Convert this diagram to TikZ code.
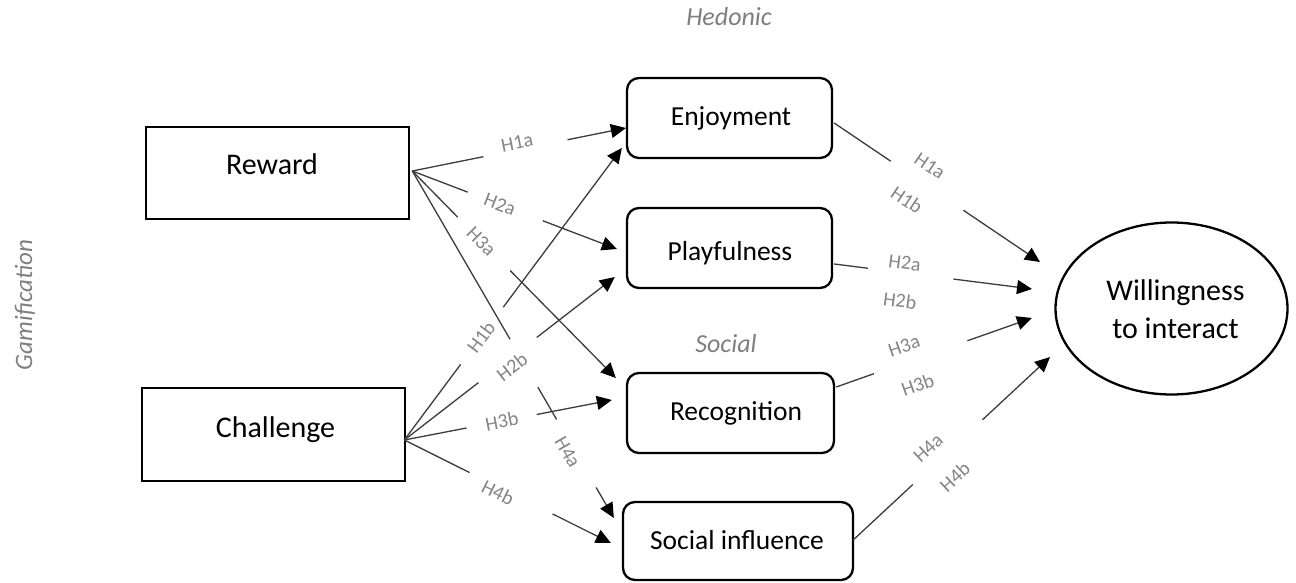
\documentclass[tikz,border=0pt]{standalone}
\usepackage{fontspec}
\setmainfont{Carlito}
\usetikzlibrary{arrows.meta,calc,shapes.geometric}
\definecolor{conncol}{HTML}{3C3C3C}
\definecolor{lblcol}{HTML}{858585}
\definecolor{catcol}{HTML}{7F7F7F}
% connector from #1 to #2 with a gap between fractions #3 and #4
\newcommand\gapconn[4]{%
  \draw[seg] (#1) -- ($(#1)!#3!(#2)$);
  \draw[conn] ($(#1)!#4!(#2)$) -- (#2);}
\begin{document}
\begin{tikzpicture}[x=1pt,y=-1pt,
 rectbox/.style={draw=black,line width=2.6pt,minimum width=263pt,minimum height=92pt,inner sep=0pt},
 rbox/.style={draw=black,line width=2.3pt,rounded corners=12pt,minimum width=205pt,minimum height=80pt,inner sep=0pt},
 bigtxt/.style={font=\fontsize{30}{38}\selectfont,inner sep=0pt},
 midtxt/.style={font=\fontsize{27.5}{33}\selectfont,inner sep=0pt},
 cat/.style={text=catcol,font=\itshape\fontsize{26}{31}\selectfont,inner sep=0pt},
 seg/.style={draw=conncol,line width=1.3pt},
 conn/.style={draw=conncol,line width=1.3pt,-{Triangle[length=15pt,width=14pt,black]}},
 lbl/.style={text=lblcol,font=\fontsize{20}{24}\selectfont,sloped,inner sep=0pt}]

\useasboundingbox[fill=white] (0,0) rectangle (1296,583);

% boxes
\node[rectbox] (reward) at (277.5,173) {};
\node[rectbox,minimum height=93pt] (challenge) at (273.5,434.5) {};
\node[rbox] (enj) at (729.5,118) {};
\node[rbox] (play) at (729.5,248) {};
\node[rbox,minimum width=207pt] (recog) at (730.5,413) {};
\node[rbox,minimum width=230pt,minimum height=78pt] (soc) at (738,541) {};
\node[ellipse,draw=black,line width=2.3pt,minimum width=232pt,minimum height=172pt,inner sep=0pt] (will) at (1171.5,308.5) {};

% box texts
\node[bigtxt,anchor=base] (rewardT) at (272,175) {Reward};
\node[bigtxt,anchor=base] (challengeT) at (275.5,437) {Challenge};
\node[midtxt,anchor=base] (enjT) at (731,126) {Enjoyment};
\node[midtxt,anchor=base] (playT) at (730,260) {Playfulness};
\node[midtxt,anchor=base] (recogT) at (736,420) {Recognition};
\node[midtxt,anchor=base] (socT) at (737,549) {Social influence};
\node[bigtxt,align=center,anchor=base] (willT) at (1175.5,338) {Willingness\\to interact};

% category labels
\node[cat,anchor=base] (hed) at (729,26) {Hedonic};
\node[cat,anchor=base] (socl) at (726,352) {Social};
\node[cat,anchor=base,rotate=90,font=\itshape\fontsize{25}{30}\selectfont] (gam) at (32,305) {Gamification};

% connector origins / ends
\coordinate (r0) at ($(reward.east)+(2,-2)$);
\coordinate (c0) at ($(challenge.east)+(-2,5.5)$);
\coordinate (eH1a) at ($(enj.west)+(0,10)$);
\coordinate (eH1b) at ($(enj.west)+(-4,30)$);
\coordinate (eH2a) at ($(play.west)+(-9,1)$);
\coordinate (eH2b) at ($(play.west)+(-11,29)$);
\coordinate (eH3a) at ($(recog.west)+(-10,-35)$);
\coordinate (eH3b) at ($(recog.west)+(-14,-13)$);
\coordinate (eH4a) at ($(soc.west)+(-8,-23)$);
\coordinate (eH4b) at ($(soc.west)+(-11,2)$);
\coordinate (s1) at ($(enj.east)+(1,5)$);
\coordinate (s2) at ($(play.east)+(1,16)$);
\coordinate (s3) at ($(recog.east)+(1,-26)$);
\coordinate (s4) at ($(soc.east)+(-1,-1)$);
\coordinate (w1) at ($(will.center)+(-131.5,-46.5)$);
\coordinate (w2) at ($(will.center)+(-139.5,-19.5)$);
\coordinate (w3) at ($(will.center)+(-139.5,9.5)$);
\coordinate (w4) at ($(will.center)+(-121.5,48.5)$);

% connectors (broken where their labels sit)
\gapconn{r0}{eH1a}{.333}{.727}
\gapconn{r0}{eH2a}{.271}{.638}
\gapconn{r0}{eH3a}{.223}{.481}
\draw[seg] (r0) -- ($(r0)!.485!(eH4a)$);
\draw[seg] ($(r0)!.623!(eH4a)$) -- ($(r0)!.716!(eH4a)$);
\draw[conn] ($(r0)!.912!(eH4a)$) -- (eH4a);
\gapconn{c0}{eH1b}{.259}{.455}
\gapconn{c0}{eH2b}{.352}{.629}
\gapconn{c0}{eH3b}{.300}{.638}
\gapconn{c0}{eH4b}{.316}{.718}
\gapconn{s1}{w1}{.275}{.628}
\gapconn{s2}{w2}{.171}{.603}
\gapconn{s3}{w3}{.193}{.670}
\gapconn{s4}{w4}{.303}{.657}

% labels (left)
\path (r0) -- node[lbl,pos=.497,yshift=7pt]{H1a} (eH1a);
\path (r0) -- node[lbl,pos=.428]{H2a} (eH2a);
\path (r0) -- node[lbl,pos=.339]{H3a} (eH3a);
\path (r0) -- node[lbl,pos=.800,yshift=-7pt]{H4a} (eH4a);
\path (c0) -- node[lbl,pos=.353]{H1b} (eH1b);
\path (c0) -- node[lbl,pos=.488,yshift=-8pt]{H2b} (eH2b);
\path (c0) -- node[lbl,pos=.470]{H3b} (eH3b);
\path (c0) -- node[lbl,pos=.464,yshift=-5pt]{H4b} (eH4b);

% labels (right)
\path (s1) -- node[lbl,pos=.416,yshift=18pt]{H1a} node[lbl,pos=.416,yshift=-23pt]{H1b} (w1);
\path (s2) -- node[lbl,pos=.350,yshift=10pt]{H2a} node[lbl,pos=.350,yshift=-28pt]{H2b} (w2);
\path (s3) -- node[lbl,pos=.374,yshift=16pt]{H3a} node[lbl,pos=.374,yshift=-25pt]{H3b} (w3);
\path (s4) -- node[lbl,pos=.437,yshift=16pt]{H4a} node[lbl,pos=.437,yshift=-23pt]{H4b} (w4);

\end{tikzpicture}
\end{document}
